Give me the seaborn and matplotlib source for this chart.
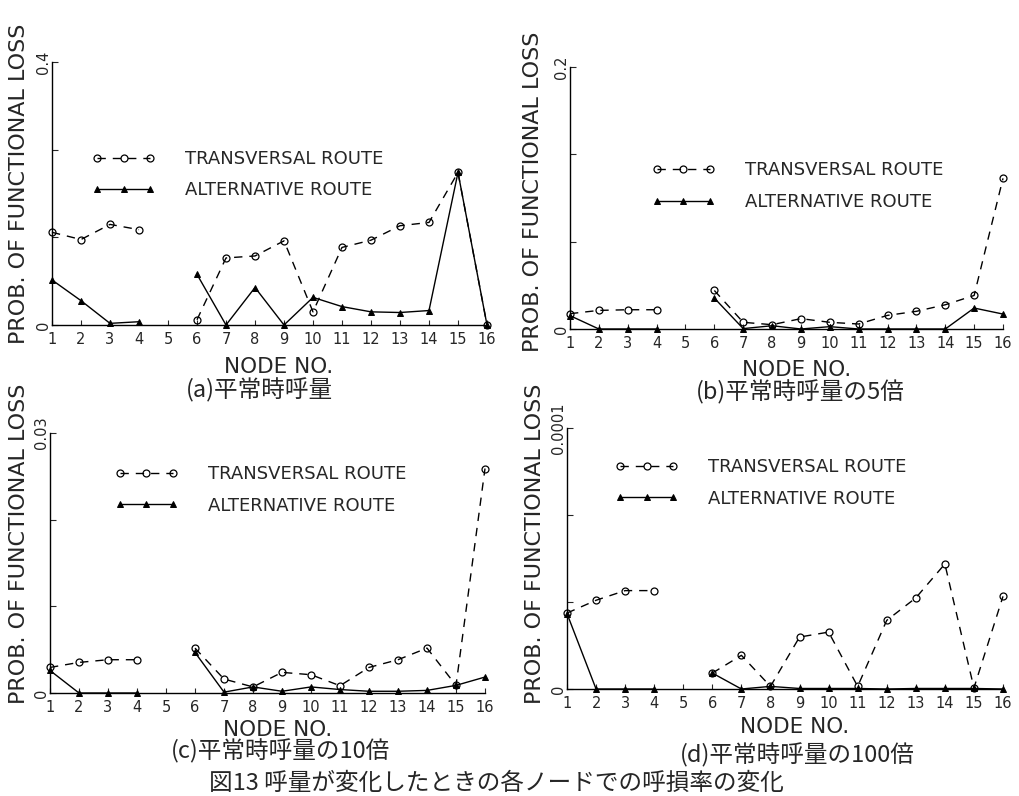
import numpy as np
import pandas as pd
import matplotlib
matplotlib.use("Agg")
import matplotlib.pyplot as plt
import seaborn as sns

# ---------------- data ----------------
nodes = list(range(1, 17))
nan = np.nan

trans_a = [0.141, 0.130, 0.153, 0.145, nan, 0.008, 0.102, 0.105, 0.128, 0.020,
           0.118, 0.129, 0.151, 0.156, 0.232, 0.0]
alt_a = [0.0685, 0.037, 0.0025, 0.005, nan, 0.077, 0.0, 0.057, 0.0, 0.042,
         0.028, 0.020, 0.019, 0.022, 0.232, 0.0]

trans_b = [0.0117, 0.0142, 0.0147, 0.0147, nan, 0.0294, 0.0051, 0.0033, 0.0079, 0.0051,
           0.0038, 0.0104, 0.0135, 0.0185, 0.0256, 0.115]
alt_b = [0.0102, 0.0, 0.0, 0.0, nan, 0.0236, 0.0003, 0.0025, 0.0, 0.0018,
         0.0, 0.0, 0.0, 0.0, 0.016, 0.0114]

trans_c = [0.00295, 0.00353, 0.00384, 0.00384, nan, 0.00518, 0.00161, 0.0007, 0.00238, 0.00211,
           0.00084, 0.00295, 0.00384, 0.00518, 0.00088, 0.0259]
alt_c = [0.0026, 0.0, 0.0, 0.0, nan, 0.00468, 0.0001, 0.0007, 0.0002, 0.0007,
         0.0004, 0.0002, 0.0002, 0.0003, 0.00088, 0.00184]

trans_d = [2.91e-5, 3.40e-5, 3.77e-5, 3.77e-5, nan, 6.1e-6, 1.29e-5, 1.0e-6, 1.99e-5, 2.18e-5,
           1.0e-6, 2.63e-5, 3.49e-5, 4.79e-5, 0.4e-6, 3.55e-5]
alt_d = [2.89e-5, 0.0, 0.0, 0.0, nan, 6.1e-6, 0.0, 1.0e-6, 0.2e-6, 0.2e-6,
         0.2e-6, 0.0, 0.2e-6, 0.2e-6, 0.2e-6, 0.0]

y_max = [0.4, 0.2, 0.03, 0.0001]
y_top_labels = ["0.4", "0.2", "0.03", "0.0001"]
panel_titles = ["(a)平常時呼量", "(b)平常時呼量の5倍", "(c)平常時呼量の10倍", "(d)平常時呼量の100倍"]
legend_labels = ["TRANSVERSAL ROUTE", "ALTERNATIVE ROUTE"]
y_label = "PROB. OF FUNCTIONAL LOSS"
x_label = "NODE NO."
caption = "図13 呼量が変化したときの各ノードでの呼損率の変化"

series = [(trans_a, alt_a), (trans_b, alt_b), (trans_c, alt_c), (trans_d, alt_d)]

# ---------------- layout (figure pixels -> fractions) ----------------
W, H = 1020, 796
# left, right, top, bottom in pixels
boxes = [(52, 487, 62, 325), (570, 1003, 67, 329), (50, 485, 433, 693), (567, 1003, 428, 689)]
legend_anchor = [(0.092, 0.666), (0.189, 0.640), (0.149, 0.876), (0.110, 0.884)]
ylabel_pos = [(-0.053, 0.536), (-0.062, 0.523), (-0.048, 0.573), (-0.050, 0.556)]
xlabel_pos = [(0.52, -0.122), (0.524, -0.118), (0.524, -0.104), (0.523, -0.107)]
title_pos = [(0.478, -0.247), (0.531, -0.240), (0.531, -0.223), (0.528, -0.253)]

sns.set_style("ticks")
plt.rcParams['font.family'] = ['DejaVu Sans', 'Noto Sans CJK JP']
plt.rcParams['axes.linewidth'] = 1.0

fig = plt.figure(figsize=(W / 100, H / 100), dpi=100)
fig.patch.set_facecolor("white")


def to_long(vals):
    rows = []
    seg = 0
    for n, v in zip(nodes, vals):
        if np.isnan(v):
            seg += 1
            continue
        rows.append({"node": n, "value": v, "segment": seg})
    return pd.DataFrame(rows)


jp = ['Noto Sans CJK JP', 'DejaVu Sans']

for i, (l, r, t, b) in enumerate(boxes):
    ax = fig.add_axes([l / W, 1 - b / H, (r - l) / W, (b - t) / H])
    ax.set_facecolor("white")
    trans, alt = series[i]
    dft = to_long(trans)
    dfa = to_long(alt)

    n0 = len(ax.lines)
    sns.lineplot(data=dft, x="node", y="value", units="segment", estimator=None,
                 ax=ax, color="black", linewidth=1.0, linestyle=(0, (6, 5)),
                 marker="o", markersize=5, markerfacecolor="none",
                 markeredgecolor="black", markeredgewidth=0.9, clip_on=False, zorder=3)
    h_trans = ax.lines[n0]
    n1 = len(ax.lines)
    sns.lineplot(data=dfa, x="node", y="value", units="segment", estimator=None,
                 ax=ax, color="black", linewidth=1.0, linestyle="-",
                 marker="^", markersize=4.5, markerfacecolor="black",
                 markeredgecolor="black", markeredgewidth=0.7, clip_on=False, zorder=3)
    h_alt = ax.lines[n1]

    ax.set_xlim(1, 16)
    ax.set_ylim(0, y_max[i])
    ax.set_xticks(nodes)
    ax.set_xticklabels([str(n) for n in nodes], fontsize=10.5)
    ym = y_max[i]
    ax.set_yticks([0, ym / 3, 2 * ym / 3, ym])
    ax.set_yticklabels(["0", "", "", y_top_labels[i]], rotation=90, va="center", fontsize=10.5)
    ax.tick_params(axis="x", direction="in", length=3.5, width=0.8, pad=5)
    ax.tick_params(axis="y", direction="in", length=4.5, width=0.8, pad=1)
    sns.despine(ax=ax)
    for s in ["left", "bottom"]:
        ax.spines[s].set_color("black")

    ax.set_ylabel(y_label, fontsize=16)
    ax.yaxis.set_label_coords(*ylabel_pos[i])
    ax.set_xlabel(x_label, fontsize=15.5, va="top")
    ax.xaxis.set_label_coords(*xlabel_pos[i])

    ax.text(title_pos[i][0], title_pos[i][1], panel_titles[i], transform=ax.transAxes,
            ha="center", va="center", fontsize=17, family=jp)

    ax.legend([h_trans, h_alt], legend_labels, numpoints=3, frameon=False,
              loc="upper left", bbox_to_anchor=legend_anchor[i], borderpad=0,
              borderaxespad=0, handlelength=3.5, handletextpad=1.65,
              labelspacing=0.75, fontsize=13)

fig.text(496 / W, 1 - 783 / H, caption, ha="center", va="center", fontsize=17, family=jp)

fig.savefig("out.png", dpi=100, facecolor="white")
